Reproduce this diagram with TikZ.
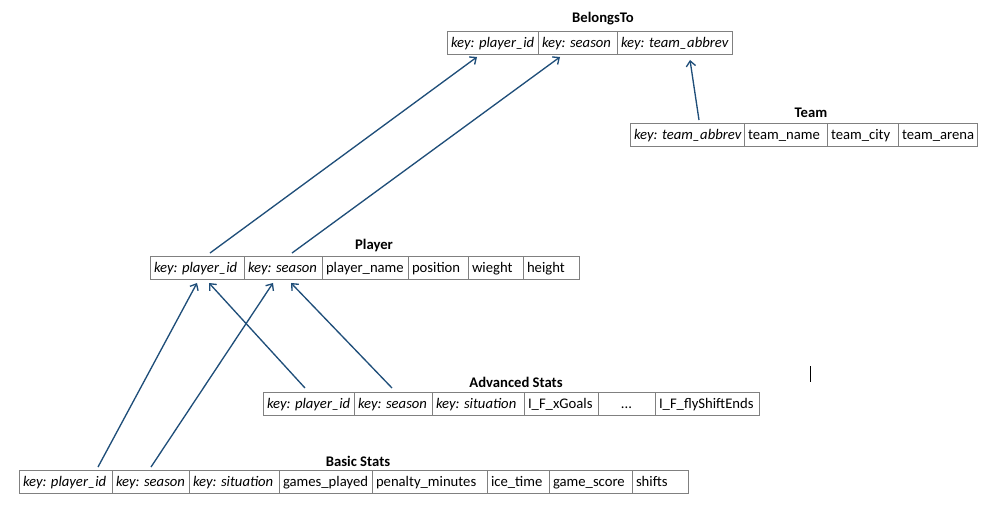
\documentclass[tikz,border=0pt]{standalone}
\usepackage{fontspec}
\setmainfont{Carlito}
\usetikzlibrary{positioning, arrows.meta, calc}
\definecolor{linkblue}{RGB}{31,78,121}
\definecolor{cellgray}{RGB}{128,128,128}
\tikzset{
	x=0.75pt, y=-0.75pt,
	>={Straight Barb[length=4pt, width=7pt]},
	cell/.style={draw=cellgray, line width=0.6pt, outer sep=0pt, inner xsep=3pt, inner ysep=0pt,
		minimum height=17.6pt, text height=8.5pt, text depth=2pt,
		/utils/exec={\pgfmathsetlengthmacro\cellwd{#1*0.75pt-6pt}},
		execute at begin node={\hbox to \cellwd\bgroup}, execute at end node={\hss\egroup}},
	title/.style={font=\fontsize{11}{13}\selectfont\bfseries},
	link/.style={->, draw=linkblue, line width=1pt},
}

\begin{document}
\begin{tikzpicture}[font=\fontsize{11}{13}\selectfont]
			\useasboundingbox (0,0) rectangle (999,512);
			\node[title] (BELONGSTO) at (603,19) {BelongsTo};
			\node[cell=91, anchor=north west] (BT1) at (447,31) {\textit{key: player\_id}};
			\node[cell=79, right=0pt of BT1] (BT2) {\textit{key: season}};
			\node[cell=115, right=0pt of BT2] (BT3) {\textit{key: team\_abbrev}};
			
			\node[title] (TEAM) at (811,113) {Team};
			\node[cell=114, anchor=north west] (TEAM1) at (630,123) {\textit{key: team\_abbrev}};
			\node[cell=83, right=0pt of TEAM1] (TEAM2) {team\_name};
			\node[cell=71, right=0pt of TEAM2] (TEAM3) {team\_city};
			\node[cell=79, right=0pt of TEAM3] (TEAM4) {team\_arena};
			
			\node[title] (PLAYER) at (374,245) {Player};
			\node[cell=94, anchor=north west] (PL1) at (150,256) {\textit{key: player\_id}};
			\node[cell=78, right=0pt of PL1] (PL2) {\textit{key: season}};
			\node[cell=86, right=0pt of PL2] (PL3) {player\_name};
			\node[cell=60, right=0pt of PL3] (PL4) {position};
			\node[cell=55, right=0pt of PL4] (PL5) {wieght};
			\node[cell=56, right=0pt of PL5] (PL6) {height};
			
			\node[title] (ADV) at (516,382) {Advanced Stats};
			\node[cell=91, anchor=north west] (ADV1) at (263,392) {\textit{key: player\_id}};
			\node[cell=78, right=0pt of ADV1] (ADV2) {\textit{key: season}};
			\node[cell=92, right=0pt of ADV2] (ADV3) {\textit{key: situation}};
			\node[cell=74, right=0pt of ADV3] (ADV4) {I\_F\_xGoals};
			\node[cell=57, right=0pt of ADV4] (ADV5) {\hss...};
			\node[cell=104, right=0pt of ADV5] (ADV6) {I\_F\_flyShiftEnds};
			
			\node[title] (BASIC) at (358,461) {Basic Stats};
			\node[cell=93, anchor=north west] (BS1) at (19,470) {\textit{key: player\_id}};
			\node[cell=77, right=0pt of BS1] (BS2) {\textit{key: season}};
			\node[cell=90, right=0pt of BS2] (BS3) {\textit{key: situation}};
			\node[cell=93, right=0pt of BS3] (BS4) {games\_played};
			\node[cell=115, right=0pt of BS4] (BS5) {penalty\_minutes};
			\node[cell=62, right=0pt of BS5] (BS6) {ice\_time};
			\node[cell=83, right=0pt of BS6] (BS7) {game\_score};
			\node[cell=56, right=0pt of BS7] (BS8) {shifts};
			
			\coordinate (CURSOR) at (810,366);
			\draw[line width=0.6pt] (CURSOR) -- ++(0,16);
			
			\draw[link] ($(PL1.north)+(13,-3)$) -- ($(BT1.south)+(-15.5,2.5)$);
			\draw[link] ($(PL2.north)+(9,-3)$) -- ($(BT2.south)+(-17.5,2.5)$);
			\draw[link] ($(TEAM1.north)+(12,-3)$) -- ($(BT3.south)+(15.5,5.5)$);
			\draw[link] ($(ADV1.north)+(-3.5,-4)$) -- ($(PL1.south)+(12,3.5)$);
			\draw[link] ($(ADV2.north)+(-1,-4)$) -- ($(PL2.south)+(8,3.5)$);
			\draw[link] ($(BS1.north)+(32.5,-3)$) -- ($(PL1.south)+(0,3.5)$);
			\draw[link] ($(BS2.north)+(0.5,-3)$) -- ($(PL2.south)+(-10,3.5)$);
			
		\end{tikzpicture}
\end{document}
